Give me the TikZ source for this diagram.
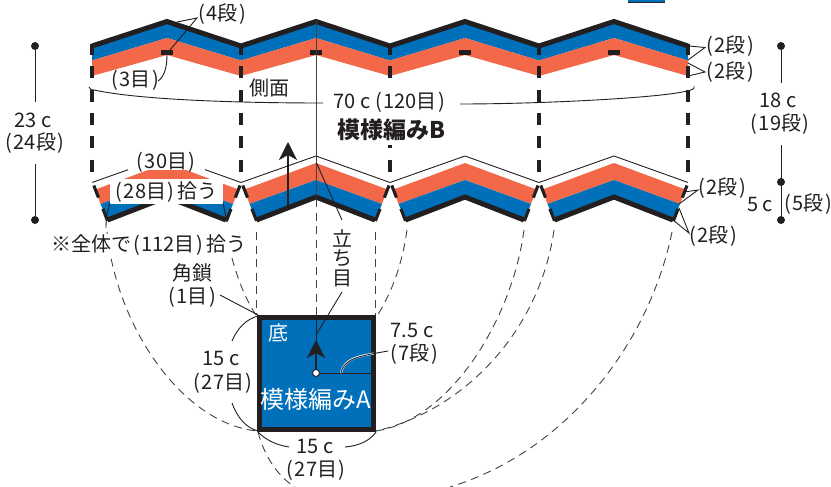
\documentclass[tikz,border=0pt]{standalone}
\usepackage{fontspec}
\setmainfont{Noto Sans CJK JP}
\usetikzlibrary{arrows.meta}
\definecolor{ink}{HTML}{231F20}
\definecolor{bluex}{HTML}{0070BA}
\definecolor{orangex}{HTML}{F26849}
\newcommand\LP{\kern1.5pt(\kern1.5pt}
\newcommand\RP{\kern1.5pt)\kern1.5pt}
\tikzset{
  lab/.style={inner sep=0pt,text=ink,font=\fontsize{20}{22}\selectfont},
  thin line/.style={draw=ink,line width=0.9pt},
  thick zig/.style={draw=ink,line width=5pt,line join=miter},
  cut/.style={draw=ink,line width=3.1pt,dash pattern=on 12pt off 11.3pt,dash phase=1.5pt},
  side/.style={draw=ink,line width=3.1pt,dash pattern=on 13pt off 12pt},
  fine dash/.style={draw=ink!85,line width=0.9pt,dash pattern=on 8pt off 5.5pt},
  dot/.style={circle,fill=ink,inner sep=0pt,minimum size=8pt},
  head/.style={-{Stealth[length=18pt,width=18pt,inset=5pt]},draw=ink,line width=1.8pt}
}
\begin{document}
\begin{tikzpicture}[x=1pt,y=-1pt]
\useasboundingbox (0,0) rectangle (831,487);
\fill[bluex] (628,-1) rectangle (665,2);
\draw[ink,line width=.8pt] (628,2) -- (665,2);
% top band
\fill[bluex] (92,46) -- (167,21) -- (241,46) -- (316,21) -- (390,46) -- (465,21) -- (539,46) -- (614,21) -- (688,46)
  -- (688,60.5) -- (614,38) -- (539,60.5) -- (465,38) -- (390,60.5) -- (316,38) -- (241,60.5) -- (167,38) -- (92,60.5) -- cycle;
\fill[orangex] (92,60.5) -- (167,38) -- (241,60.5) -- (316,38) -- (390,60.5) -- (465,38) -- (539,60.5) -- (614,38) -- (688,60.5)
  -- (688,76) -- (614,55) -- (539,76) -- (465,55) -- (390,76) -- (316,55) -- (241,76) -- (167,55) -- (92,76) -- cycle;
\draw[thick zig] (92,46) -- (167,21.5) -- (241,46) -- (316,21.5) -- (390,46) -- (465,21.5) -- (539,46) -- (614,21.5) -- (688,46);
\foreach \mx in {167,316,465,614}{\fill[ink] (\mx-6,50) rectangle (\mx+6,55);}
% bottom sections
\foreach \d in {-149,0,149,298}{
  \begin{scope}[xshift=\d pt]
  \fill[orangex] (244.5,189.5) -- (316,163) -- (387.5,189.5) -- (382,204) -- (316,180) -- (249.5,204) -- cycle;
  \fill[bluex] (249.5,204) -- (316,180) -- (382,204) -- (375,221) -- (316,197) -- (257,221) -- cycle;
  \draw[thick zig] (256.5,220) -- (316,197) -- (375,220);
  \draw[side] (242.8,185.5) -- (257,222);
  \draw[side] (389,185.5) -- (375,222);
  \end{scope}
}
% thin outline above the sections
\draw[thin line] (92,182.5) -- (167,156) -- (241,182.5) -- (316,156) -- (390,182.5) -- (465,156) -- (539,182.5) -- (614,156) -- (688,182.5);
% thick cut lines
\foreach \cx in {92,241,390,539,688}{\draw[cut] (\cx,44.5) -- (\cx,182);}
% white masks
\fill[white] (325,90) rectangle (458,145);
\fill[white] (128,148) rectangle (205,170);
\fill[white] (110,179) rectangle (223,204);
% centre line
\draw[draw=ink!85,line width=.9pt] (316,21) -- (316,197);
\draw[fine dash] (316,199) -- (316,315);
\draw[fine dash] (256,232) -- (256,315);
\draw[fine dash] (375,232) -- (375,315);
% rising arrow of the side
\draw[head] (288,207) -- (288,142);
% stitches to base
\draw[thin line] (110,203) .. controls (107,212) and (106,220) .. (106,228);
\draw[thin line] (223,203) -- (227,222);
\draw[fine dash] (107,232) .. controls (117,330) and (185,425) .. (258,431);
\draw[fine dash] (232,258) .. controls (238,280) and (246,300) .. (256,315);
\draw[fine dash] (407,230) .. controls (402,265) and (392,292) .. (377,316);
\draw[fine dash] (524,230) .. controls (512,320) and (450,420) .. (376,431);
\draw[fine dash] (554,230) .. controls (540,330) and (465,410) .. (376,431);
\draw[fine dash] (672,232) .. controls (650,340) and (570,450) .. (450,487);
\draw[fine dash] (258,432) .. controls (264,455) and (277,476) .. (295,487);
% base
\node[draw=ink,fill=bluex,line width=5pt,minimum width=114pt,minimum height=112.5pt,inner sep=0pt] (base) at (316.5,373.7) {};
\draw[thin line] (316,317) -- (316,345);
\draw[head] (316,373) -- (316,340);
\draw[thin line] (316,373) -- (371,373);
\node[circle,draw=ink,fill=white,line width=.9pt,minimum size=7pt,inner sep=0pt] (centre) at (316,373) {};
\draw[white,line width=2pt] (341,373) .. controls (344,358) and (360,356) .. (374,353.5);
\draw[thin line] (341,373) .. controls (344,358) and (360,356) .. (388,351);
\node[lab,text=white] (bottomname) at (278,333) {底};
\node[lab,text=white,font=\fontsize{24}{26}\selectfont] (patterna) at (316,399) {模様編みA};
% left dimension
\node[dot] (l1) at (35,46) {};
\node[dot] (l2) at (35,220) {};
\node[lab] (l3) at (33,120) {23 c};
\node[lab] (l4) at (35,143) {\LP24段\RP};
\draw[thin line] (l1) -- (35,102);
\draw[thin line] (35,164) -- (l2);
% right dimension
\node[dot] (r1) at (781,46) {};
\node[dot] (r2) at (781,182) {};
\node[dot] (r3) at (781,220) {};
\node[lab] (r4) at (778,100) {18 c};
\node[lab] (r5) at (780,124) {\LP19段\RP};
\node[lab] (r6) at (760,204) {5 c};
\node[lab] (r7) at (808,204) {\LP5段\RP};
\draw[thin line] (r1) -- (781,83);
\draw[thin line] (781,145) -- (r3);
% labels
\node[lab] (t4) at (222,14) {\LP4段\RP};
\draw[thin line] (177,22) -- (197,18) -- (170,50);
\node[lab] (t3) at (135,80) {\LP3目\RP};
\draw[thin line] (167,55) .. controls (167,68) and (164,77) .. (158,81);
\node[lab] (side) at (269,88) {側面};
\node[lab] (w70) at (390,102) {70 c\kern3pt\LP120目\RP};
\node[lab,font=\bfseries\fontsize{23}{26}\selectfont] (patternb) at (391,130) {模様編みB};
\draw[thin line] (89,87) .. controls (90,90) and (92,90) .. (94,90) .. controls (140,100) and (240,103) .. (323,103);
\draw[thin line] (460,104) .. controls (540,104) and (660,98) .. (687,91) .. controls (692,90) and (695,89) .. (694,86);
\node[lab] (t30) at (166,162) {\LP30目\RP};
\node[lab] (t28) at (166,192) {\LP28目\RP\kern2pt 拾う};
\node[lab] (r2a) at (730,46) {\LP2段\RP};
\node[lab] (r2b) at (730,72) {\LP2段\RP};
\draw[thin line] (689,46) -- (705,47.5) -- (688,60);
\draw[thin line] (688,63) -- (705,72) -- (688,76);
\node[lab] (r2c) at (722,188) {\LP2段\RP};
\node[lab] (r2d) at (713,236) {\LP2段\RP};
\draw[thin line] (684,192) -- (698,190) -- (679,204);
\draw[thin line] (679,208) -- (689,233) -- (673,220);
\node[lab,fill=white,inner ysep=1pt] (all) at (149,245) {※全体で\LP112目\RP\kern2pt 拾う};
\node[lab] (kaku) at (192,273) {角鎖};
\node[lab] (one) at (192,297) {\LP1目\RP};
\draw[thin line] (220,295) -- (258,315);
\node[lab] (st1) at (342,238) {立};
\node[lab] (st2) at (342,258) {ち};
\node[lab] (st3) at (342,278) {目};
\draw[thin line] (316.5,163) -- (342,220);
\draw[thin line] (342,292) -- (316,335);
\node[lab] (d75) at (412,330) {7.5 c};
\node[lab] (d7) at (414,354) {\LP7段\RP};
\node[lab] (h15) at (221,358) {15 c};
\node[lab] (h27) at (223,383) {\LP27目\RP};
\draw[thin line] (258,316) .. controls (246,319) and (237,329) .. (232,341);
\draw[thin line] (232,403) .. controls (237,417) and (246,428) .. (258,431);
\node[lab] (w15) at (315,446) {15 c};
\node[lab] (w27) at (316,470) {\LP27目\RP};
\draw[thin line] (258,432) .. controls (266,440) and (276,445) .. (289,447);
\draw[thin line] (345,447) .. controls (358,446) and (370,441) .. (376,432);
\end{tikzpicture}
\end{document}
